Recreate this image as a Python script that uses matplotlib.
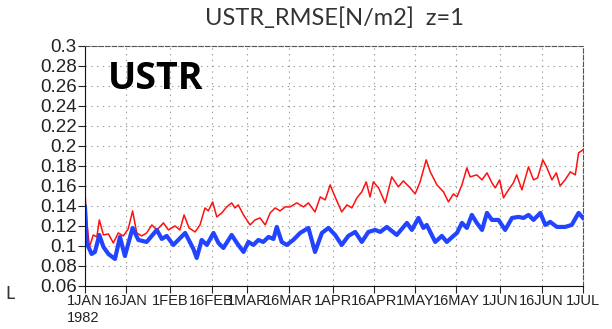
import numpy as np
import pandas as pd
import matplotlib
matplotlib.use("Agg")
from matplotlib import pyplot as plt
from matplotlib import dates as mdates

# days since 1 Jan 1982, RMSE of surface stress
red_days = [0, 0.6, 1.6, 3.0, 4.3, 5.2, 6.7, 8.5, 10.3, 12.1, 13.9, 15.7, 17.3, 18.8,
            20.6, 22.4, 24.3, 26.1, 28.5, 30.3, 32.7, 34.5, 36.0, 37.8, 40.0, 41.8,
            43.6, 44.8, 46.4, 47.9, 49.7, 51.5, 53.3, 54.5, 55.7, 57.6, 60.0, 61.8,
            63.6, 65.5, 67.3, 69.1, 70.9, 72.7, 74.5, 77.0, 79.4, 81.2, 83.6, 85.5,
            87.3, 89.1, 90.9, 93.3, 95.2, 97.0, 98.8, 100.6, 102.2, 103.6, 104.8,
            106.7, 109.1, 111.5, 113.9, 115.7, 118.2, 120.0, 121.8, 124.0, 125.5,
            127.9, 130.3, 132.1, 133.9, 135.2, 137.0, 138.8, 140.0, 142.4, 144.3,
            146.1, 147.9, 149.1, 150.7, 152.1, 153.9, 155.7, 156.9, 158.8, 161.2,
            163.0, 164.5, 166.4, 167.9, 169.7, 171.3, 172.7, 174.5, 176.4, 178.2,
            179.4, 181.0]
red_vals = [0.154, 0.126, 0.099, 0.111, 0.109, 0.126, 0.111, 0.112, 0.103, 0.113,
            0.110, 0.117, 0.135, 0.113, 0.110, 0.113, 0.121, 0.116, 0.123, 0.116,
            0.120, 0.116, 0.131, 0.118, 0.114, 0.121, 0.138, 0.135, 0.144, 0.129,
            0.133, 0.139, 0.143, 0.138, 0.141, 0.131, 0.121, 0.126, 0.128, 0.121,
            0.133, 0.138, 0.135, 0.139, 0.139, 0.143, 0.139, 0.143, 0.134, 0.149,
            0.146, 0.161, 0.149, 0.134, 0.141, 0.138, 0.148, 0.154, 0.164, 0.149,
            0.164, 0.158, 0.143, 0.169, 0.159, 0.165, 0.158, 0.152, 0.164, 0.186,
            0.174, 0.161, 0.154, 0.144, 0.152, 0.149, 0.161, 0.178, 0.169, 0.171,
            0.166, 0.173, 0.163, 0.158, 0.166, 0.148, 0.156, 0.163, 0.171, 0.156,
            0.179, 0.166, 0.168, 0.186, 0.178, 0.166, 0.173, 0.160, 0.166, 0.174,
            0.171, 0.193, 0.196]

blue_days = [0, 0.6, 2.4, 3.6, 5.2, 6.7, 8.5, 10.9, 12.7, 14.5, 17.3, 19.4, 22.4,
             26.1, 27.9, 29.7, 32.1, 36.4, 39.4, 40.6, 42.4, 44.3, 46.7, 48.5, 50.3,
             53.3, 55.2, 57.6, 59.4, 61.2, 63.0, 64.8, 66.7, 68.5, 69.7, 71.5, 73.3,
             75.7, 78.2, 81.2, 83.6, 86.1, 88.5, 90.9, 93.3, 95.7, 98.2, 100.6, 103.0,
             105.5, 107.3, 109.7, 113.3, 117.0, 118.8, 121.2, 123.0, 124.2, 127.3,
             129.7, 131.5, 133.9, 135.2, 137.0, 138.8, 140.6, 142.4, 144.3, 146.1,
             147.9, 150.3, 152.7, 155.2, 157.6, 159.4, 161.2, 163.0, 165.5, 167.3,
             169.1, 171.5, 174.5, 176.9, 179.4, 181.0]
blue_vals = [0.139, 0.103, 0.092, 0.094, 0.111, 0.099, 0.092, 0.087, 0.109, 0.090,
             0.118, 0.106, 0.104, 0.116, 0.107, 0.110, 0.101, 0.113, 0.097, 0.088,
             0.106, 0.101, 0.113, 0.103, 0.098, 0.111, 0.103, 0.094, 0.104, 0.101,
             0.106, 0.104, 0.109, 0.107, 0.119, 0.104, 0.101, 0.106, 0.113, 0.118,
             0.094, 0.113, 0.118, 0.111, 0.101, 0.110, 0.114, 0.104, 0.114, 0.116,
             0.114, 0.119, 0.111, 0.123, 0.116, 0.128, 0.118, 0.121, 0.104, 0.110,
             0.104, 0.110, 0.113, 0.123, 0.118, 0.131, 0.123, 0.116, 0.133, 0.126,
             0.126, 0.116, 0.128, 0.129, 0.128, 0.131, 0.126, 0.133, 0.121, 0.124,
             0.119, 0.119, 0.121, 0.133, 0.128]

y_ticks = [0.06, 0.08, 0.1, 0.12, 0.14, 0.16, 0.18, 0.2, 0.22, 0.24, 0.26, 0.28, 0.3]
y_labels = ["0.06", "0.08", "0.1", "0.12", "0.14", "0.16", "0.18", "0.2",
            "0.22", "0.24", "0.26", "0.28", "0.3"]

start = pd.Timestamp("1982-01-01")
end = pd.Timestamp("1982-07-01")


def to_dates(days):
    return start + pd.to_timedelta(np.array(days), unit="D")


fig = plt.figure(figsize=(6.12, 3.29), dpi=100)
ax = fig.add_axes([0.1389, 0.1307, 0.8137, 0.7303])

ax.plot(to_dates(red_days), red_vals, color="#ff1010", lw=1.1)
ax.plot(to_dates(blue_days), blue_vals, color="#2244ff", lw=3.0)

ax.set_xlim(start, end)
ax.set_ylim(0.06, 0.3)
ax.set_yticks(y_ticks)
ax.set_yticklabels(y_labels)

ax.xaxis.set_major_locator(mdates.DayLocator(bymonthday=[1, 16]))


def fmt_date(x, pos=None):
    d = mdates.num2date(x)
    s = "%d%s" % (d.day, d.strftime("%b").upper())
    if d.month == 1 and d.day == 1:
        s += "\n1982"
    return s


ax.xaxis.set_major_formatter(plt.FuncFormatter(fmt_date))

for lab in ax.get_xticklabels():
    lab.set_family("Liberation Sans")
    lab.set_fontsize(10.5)
    lab.set_color("#222222")
for lab in ax.get_yticklabels():
    lab.set_family("Liberation Sans")
    lab.set_fontsize(13.5)
    lab.set_color("#222222")
# year sits under the first date, left aligned with it
ax.get_xticklabels()[0].set_multialignment("left")

ax.tick_params(axis="both", direction="out", length=5, width=0.8, color="#222222",
               pad=1)
ax.grid(True, color="#999999", linestyle=(0, (1.2, 4)), linewidth=0.8)

for side in ["top", "right"]:
    ax.spines[side].set_linestyle((0, (4, 2)))
    ax.spines[side].set_color("#555555")
for side in ["left", "bottom"]:
    ax.spines[side].set_color("#111111")

fig.text(0.546, 0.945, "USTR_RMSE[N/m2]  z=1", ha="center", va="center",
         fontsize=17, family="Lato", color="#333333")
ax.text(0.045, 0.86, "USTR", transform=ax.transAxes, fontsize=27,
        fontweight="bold", family="Open Sans", va="center", ha="left")
fig.text(0.008, 0.09, "L", fontsize=13, family="Lato", color="#333333")

fig.savefig("out.png", dpi=100)
